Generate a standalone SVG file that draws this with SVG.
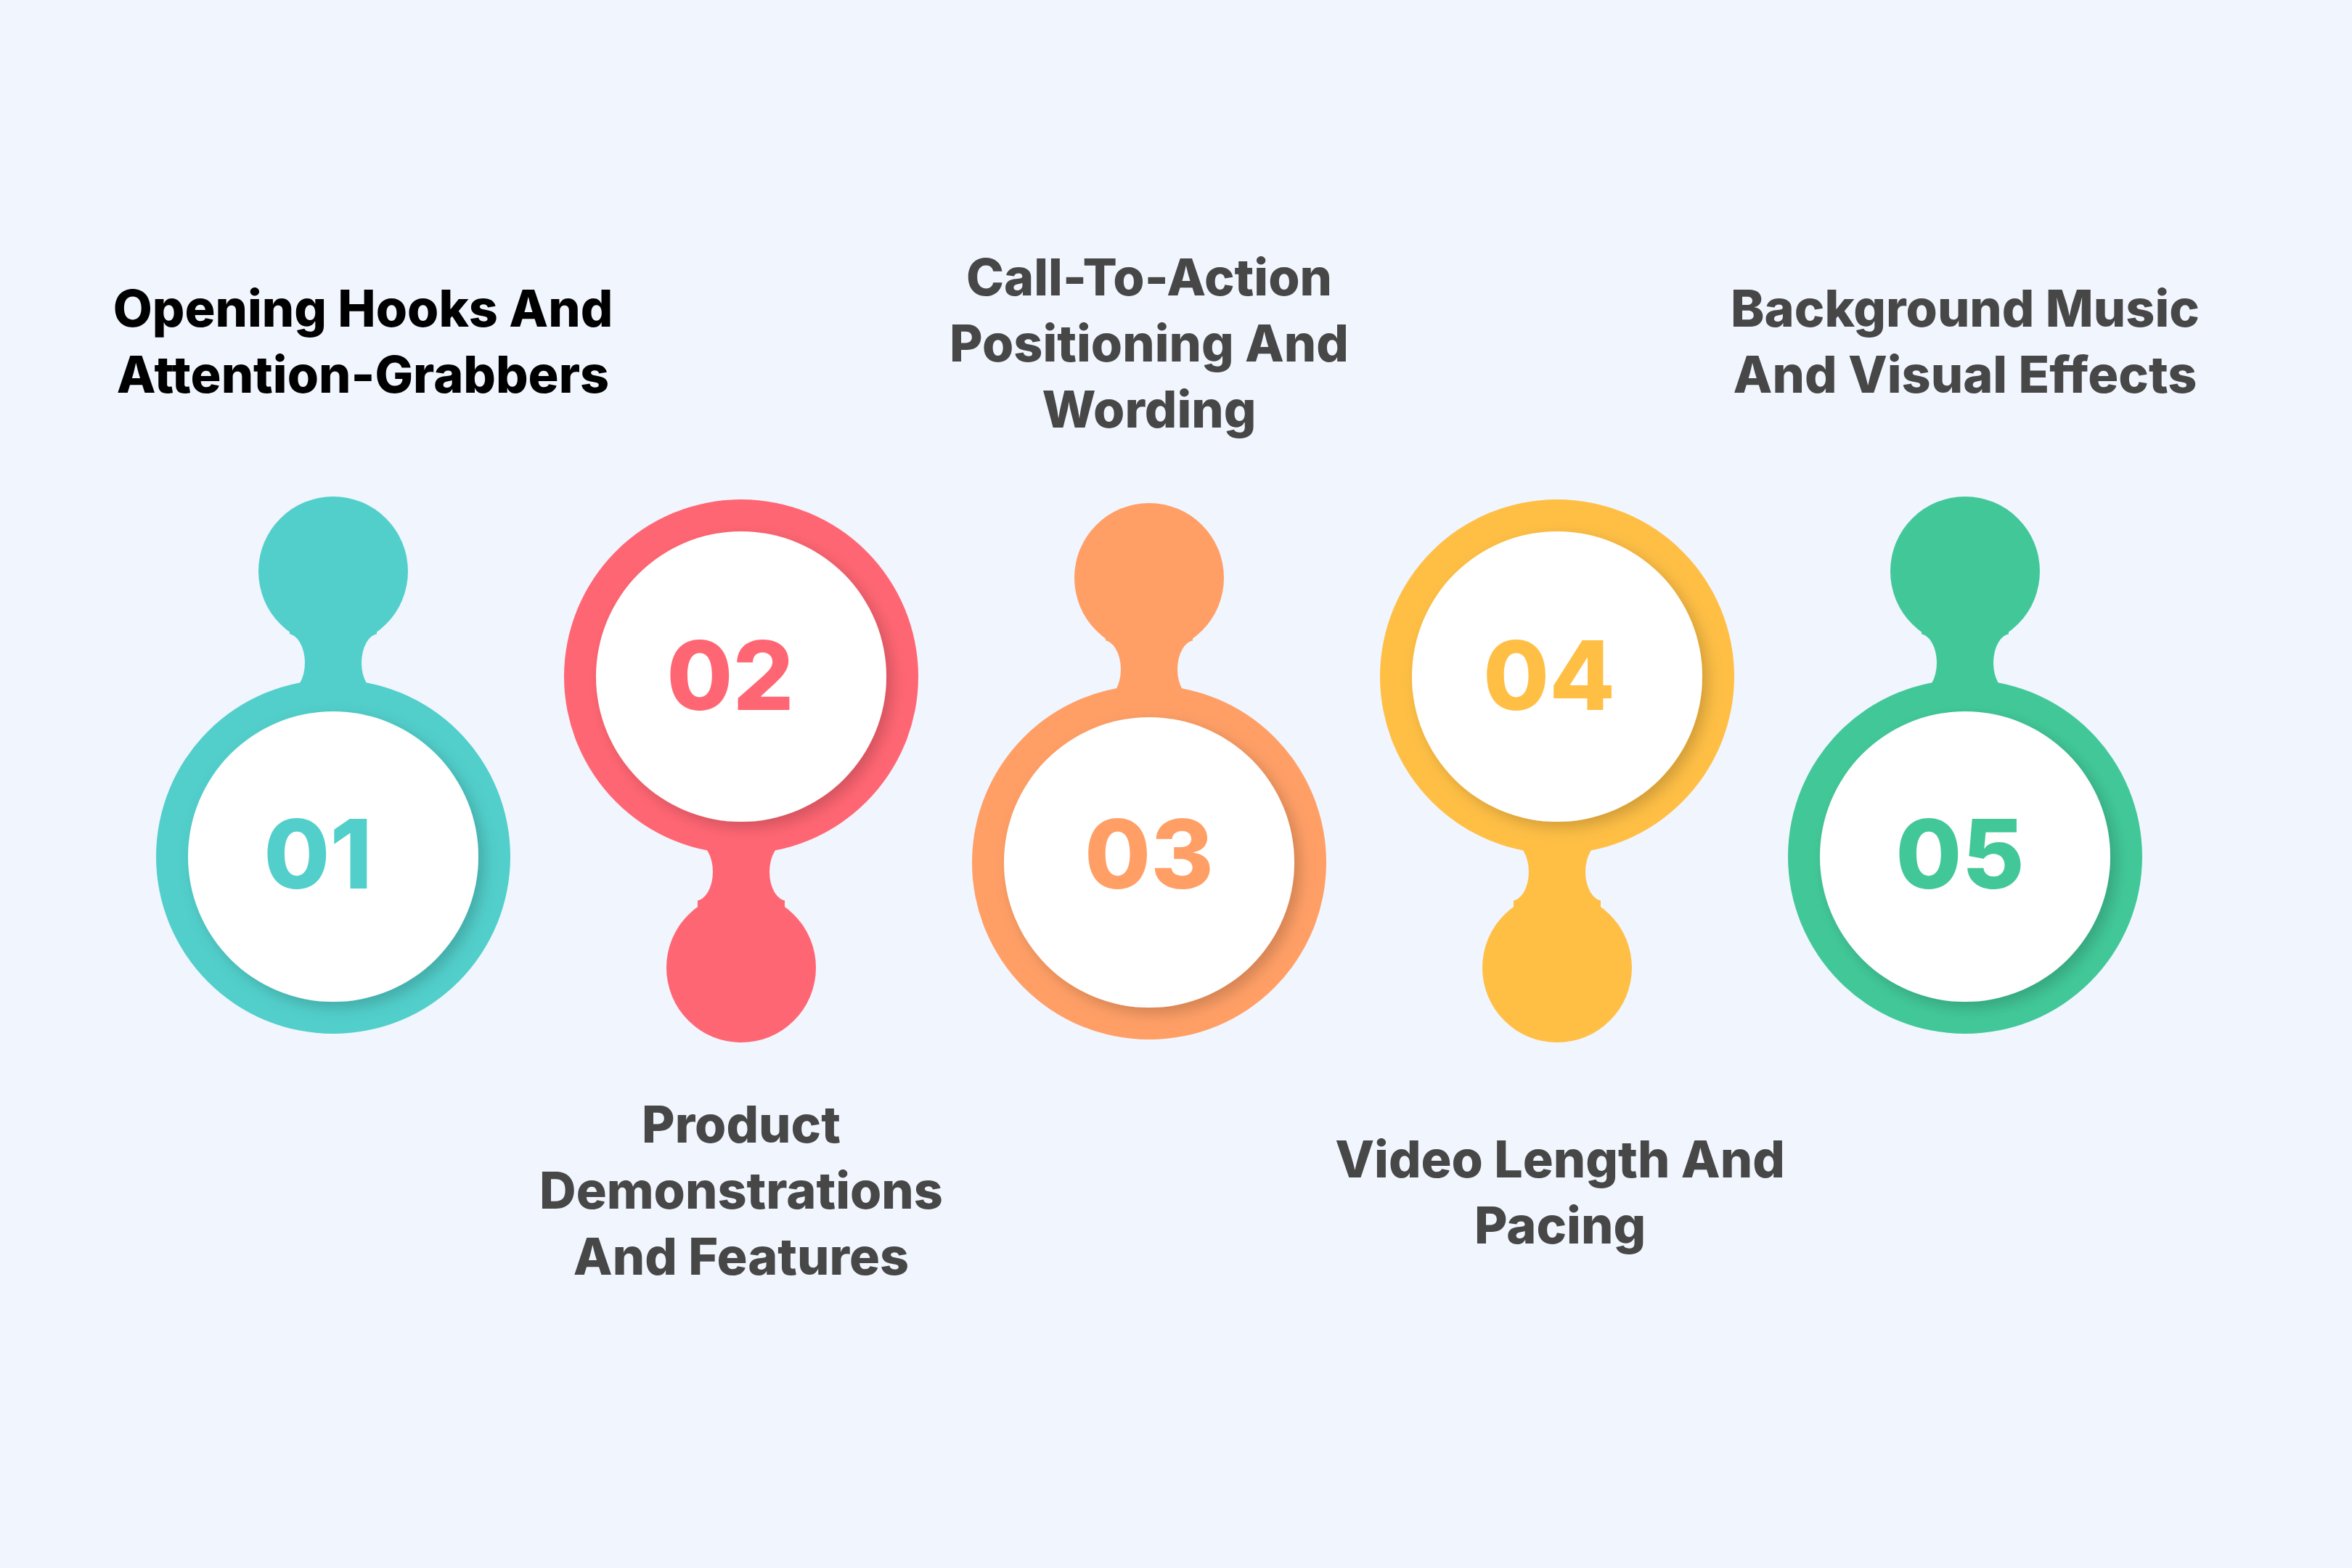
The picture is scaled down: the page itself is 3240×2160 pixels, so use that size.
<svg xmlns="http://www.w3.org/2000/svg" width="3240" height="2160" viewBox="0 0 3240 2160">
<defs>
<style>
.lbl{font-family:Inter,"Liberation Sans",sans-serif;font-weight:800;font-size:70px;text-anchor:middle;fill:#474747}
.num{font-family:Inter,"Liberation Sans",sans-serif;font-weight:800;font-size:132px;text-anchor:middle}
.bg{fill:#F0F5FE}
</style>
<filter id="sh" x="-20%" y="-20%" width="140%" height="140%"><feDropShadow dx="8" dy="8" stdDeviation="10" flood-color="#000" flood-opacity="0.18"/></filter>
</defs>
<rect width="3240" height="2160" fill="#F0F5FE"/>
<g id="node1">
<rect x="399" y="787" width="120" height="393" fill="#52CFCB"/>
<ellipse class="bg" cx="396" cy="913" rx="24" ry="40"/><ellipse class="bg" cx="522" cy="913" rx="24" ry="40"/>
<circle cx="459" cy="787" r="103" fill="#52CFCB"/>
<circle cx="459" cy="1180" r="244" fill="#52CFCB"/>
<circle cx="459" cy="1180" r="200" fill="#fff" filter="url(#sh)"/>
<text class="num" x="438" y="1224" fill="#52CFCB">01</text>
<text class="lbl" x="500" y="450" fill="#000" style="fill:#000">Opening Hooks And</text>
<text class="lbl" x="500" y="541" style="fill:#000">Attention-Grabbers</text>
</g>
<g id="node2">
<rect x="961" y="932" width="120" height="401" fill="#FF6673"/>
<ellipse class="bg" cx="958" cy="1201" rx="24" ry="40"/><ellipse class="bg" cx="1084" cy="1201" rx="24" ry="40"/>
<circle cx="1021" cy="1333" r="103" fill="#FF6673"/>
<circle cx="1021" cy="932" r="244" fill="#FF6673"/>
<circle cx="1021" cy="932" r="200" fill="#fff" filter="url(#sh)"/>
<text class="num" x="1006" y="978" fill="#FF6673">02</text>
<text class="lbl" x="1021" y="1574">Product</text>
<text class="lbl" x="1021" y="1665">Demonstrations</text>
<text class="lbl" x="1021" y="1756">And Features</text>
</g>
<g id="node3">
<rect x="1523" y="796" width="120" height="392" fill="#FF9F66"/>
<ellipse class="bg" cx="1520" cy="922" rx="24" ry="40"/><ellipse class="bg" cx="1646" cy="922" rx="24" ry="40"/>
<circle cx="1583" cy="796" r="103" fill="#FF9F66"/>
<circle cx="1583" cy="1188" r="244" fill="#FF9F66"/>
<circle cx="1583" cy="1188" r="200" fill="#fff" filter="url(#sh)"/>
<text class="num" x="1583" y="1224" fill="#FF9F66">03</text>
<text class="lbl" x="1583" y="407">Call-To-Action</text>
<text class="lbl" x="1583" y="498">Positioning And</text>
<text class="lbl" x="1583" y="589">Wording</text>
</g>
<g id="node4">
<rect x="2085" y="932" width="120" height="401" fill="#FFBF45"/>
<ellipse class="bg" cx="2082" cy="1201" rx="24" ry="40"/><ellipse class="bg" cx="2208" cy="1201" rx="24" ry="40"/>
<circle cx="2145" cy="1333" r="103" fill="#FFBF45"/>
<circle cx="2145" cy="932" r="244" fill="#FFBF45"/>
<circle cx="2145" cy="932" r="200" fill="#fff" filter="url(#sh)"/>
<text class="num" x="2134" y="978" fill="#FFBF45">04</text>
<text class="lbl" x="2149" y="1622">Video Length And</text>
<text class="lbl" x="2149" y="1713">Pacing</text>
</g>
<g id="node5">
<rect x="2647" y="787" width="120" height="393" fill="#42C898"/>
<ellipse class="bg" cx="2644" cy="913" rx="24" ry="40"/><ellipse class="bg" cx="2770" cy="913" rx="24" ry="40"/>
<circle cx="2707" cy="787" r="103" fill="#42C898"/>
<circle cx="2707" cy="1180" r="244" fill="#42C898"/>
<circle cx="2707" cy="1180" r="200" fill="#fff" filter="url(#sh)"/>
<text class="num" x="2700" y="1224" fill="#42C898">05</text>
<text class="lbl" x="2707" y="450">Background Music</text>
<text class="lbl" x="2707" y="541">And Visual Effects</text>
</g>
<g id="connectors"></g>
</svg>
